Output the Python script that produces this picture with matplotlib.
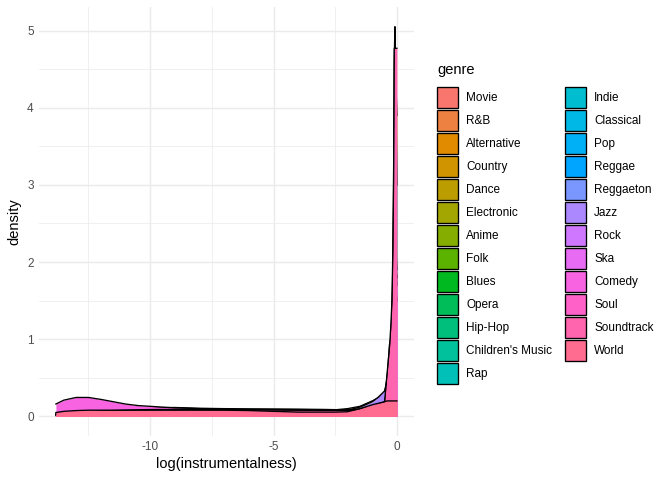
import numpy as np
import matplotlib
matplotlib.use("Agg")
import matplotlib.pyplot as plt
from matplotlib.patches import Patch

plt.rcParams['font.family'] = ['Liberation Sans', 'DejaVu Sans']

genres = ["Movie", "R&B", "Alternative", "Country", "Dance", "Electronic", "Anime",
          "Folk", "Blues", "Opera", "Hip-Hop", "Children's Music", "Rap", "Indie",
          "Classical", "Pop", "Reggae", "Reggaeton", "Jazz", "Rock", "Ska", "Comedy",
          "Soul", "Soundtrack", "World"]

# evaluation points on log(instrumentalness)
x_grid = [-13.82, -13.5, -13.0, -12.5, -12.0, -11.5, -11.0, -10.5, -10.0, -9.0, -8.0,
          -7.0, -6.0, -5.0, -4.0, -3.0, -2.5, -2.0, -1.5, -1.0, -0.75, -0.5, -0.4,
          -0.3, -0.25, -0.2, -0.162, -0.135, -0.108, -0.081, -0.054, -0.027, 0.0]

dens_electronic = [0.02, 0.03, 0.04, 0.05, 0.05, 0.05, 0.06, 0.06, 0.07, 0.07, 0.07,
                   0.07, 0.07, 0.07, 0.07, 0.075, 0.085, 0.1, 0.13, 0.2, 0.24, 0.3, 0.5,
                   0.8, 1.0, 1.3, 1.8, 2.6, 3.6, 4.2, 4.3, 4.2, 3.9]
dens_classical = [0.01, 0.01, 0.01, 0.01, 0.01, 0.01, 0.01, 0.01, 0.01, 0.01, 0.015,
                  0.015, 0.02, 0.02, 0.025, 0.03, 0.035, 0.04, 0.06, 0.1, 0.15, 0.25, 0.45,
                  0.93, 1.0, 1.35, 2.0, 3.0, 4.6, 5.05, 4.6, 3.8, 3.0]
dens_jazz = [0.03, 0.04, 0.05, 0.06, 0.065, 0.07, 0.07, 0.075, 0.075, 0.08, 0.08,
             0.08, 0.08, 0.08, 0.078, 0.075, 0.075, 0.08, 0.12, 0.19, 0.25, 0.33, 0.45,
             0.7, 0.9, 1.2, 1.6, 2.0, 2.4, 2.4, 2.3, 2.1, 1.9]
dens_rock = [0.03, 0.05, 0.06, 0.07, 0.08, 0.09, 0.1, 0.105, 0.11, 0.115, 0.105,
             0.1, 0.097, 0.095, 0.093, 0.09, 0.087, 0.085, 0.09, 0.12, 0.15, 0.18, 0.35,
             0.65, 0.85, 1.1, 1.5, 1.9, 2.2, 2.2, 2.1, 1.9, 1.7]
dens_comedy = [0.16, 0.21, 0.245, 0.245, 0.22, 0.19, 0.16, 0.14, 0.13, 0.11, 0.1,
               0.095, 0.092, 0.09, 0.088, 0.085, 0.083, 0.085, 0.09, 0.12, 0.15, 0.18, 0.35,
               0.6, 0.8, 1.0, 1.3, 1.6, 1.8, 1.8, 1.7, 1.6, 1.5]
dens_soul = [0.02, 0.03, 0.04, 0.05, 0.06, 0.06, 0.07, 0.07, 0.075, 0.08, 0.08,
             0.08, 0.08, 0.08, 0.078, 0.075, 0.072, 0.07, 0.07, 0.1, 0.14, 0.18, 0.33,
             0.6, 0.8, 1.05, 1.4, 1.8, 2.1, 2.1, 2.0, 1.9, 1.8]
dens_soundtrack = [0.03, 0.04, 0.05, 0.06, 0.07, 0.075, 0.08, 0.085, 0.088, 0.09, 0.09,
                   0.088, 0.085, 0.083, 0.08, 0.078, 0.077, 0.078, 0.09, 0.12, 0.15, 0.19,
                   0.55, 0.9, 1.15, 1.5, 2.2, 3.05, 4.77, 4.77, 4.77, 4.77, 4.77]
dens_world = [0.05, 0.065, 0.075, 0.08, 0.08, 0.08, 0.08, 0.08, 0.08, 0.08, 0.08,
              0.08, 0.075, 0.065, 0.055, 0.055, 0.055, 0.06, 0.1, 0.15, 0.17, 0.19, 0.2,
              0.2, 0.2, 0.2, 0.2, 0.2, 0.2, 0.2, 0.2, 0.2, 0.2]

densities = {"Electronic": dens_electronic, "Classical": dens_classical, "Jazz": dens_jazz,
             "Rock": dens_rock, "Comedy": dens_comedy, "Soul": dens_soul,
             "Soundtrack": dens_soundtrack, "World": dens_world}


def hue_pal(n, c=100.0, l=65.0):
    # ggplot2 default discrete palette (polar LUV)
    hs = np.linspace(15, 375, n + 1)[:-1]
    xn, yn, zn = 0.95047, 1.0, 1.08883
    un = 4 * xn / (xn + 15 * yn + 3 * zn)
    vn = 9 * yn / (xn + 15 * yn + 3 * zn)
    out = []
    for h in hs:
        u = c * np.cos(np.radians(h))
        v = c * np.sin(np.radians(h))
        Y = yn * ((l + 16) / 116) ** 3
        up = u / (13 * l) + un
        vp = v / (13 * l) + vn
        X = 9 * Y * up / (4 * vp)
        Z = -X / 3 - 5 * Y + 3 * Y / vp
        rgb = np.array([3.240479 * X - 1.537150 * Y - 0.498535 * Z,
                        -0.969256 * X + 1.875992 * Y + 0.041556 * Z,
                        0.055648 * X - 0.204043 * Y + 1.057311 * Z])
        rgb = np.where(rgb > 0.00304, 1.055 * np.abs(rgb) ** (1 / 2.4) - 0.055, 12.92 * rgb)
        out.append(tuple(np.clip(rgb, 0, 1)))
    return out


colors = hue_pal(len(genres))

fig = plt.figure(figsize=(7, 5), dpi=96)
ax = fig.add_axes([0.058, 0.092, 0.558, 0.893])

z = 2
for g, col in zip(genres, colors):
    if g not in densities:
        continue
    y = densities[g]
    ax.fill_between(x_grid, 0, y, color=col, lw=0, zorder=z)
    ax.plot(x_grid, y, color='black', lw=1.0, zorder=z + 0.5)
    z += 1

ax.set_xlim(-14.506, 0.691)
ax.set_ylim(-0.2525, 5.3025)
ax.set_xticks([-10, -5, 0])
ax.set_xticklabels(['-10', '-5', '0'])
ax.set_yticks([0, 1, 2, 3, 4, 5])
ax.set_xticks([-12.5, -7.5, -2.5], minor=True)
ax.set_yticks([0.5, 1.5, 2.5, 3.5, 4.5], minor=True)
ax.grid(which='major', color='#EBEBEB', lw=1.07, zorder=0)
ax.grid(which='minor', color='#EBEBEB', lw=0.53, zorder=0)
ax.set_axisbelow(True)
ax.tick_params(which='both', length=0, labelsize=8.8, labelcolor='#4D4D4D', pad=4)
for s in ax.spines.values():
    s.set_visible(False)
ax.set_xlabel('log(instrumentalness)', fontsize=11, labelpad=3)
ax.set_ylabel('density', fontsize=11, labelpad=4)

handles = [Patch(facecolor=c, edgecolor='black', lw=1.0) for c in colors]
leg = fig.legend(handles, genres, ncol=2, loc='upper left',
                 bbox_to_anchor=(429 / 672, 1 - 79 / 480), frameon=False,
                 fontsize=8.8,
                 handlelength=1.79, handleheight=2.375, labelspacing=0.17,
                 handletextpad=0.68, columnspacing=1.1, borderpad=0.2)
fig.text(437 / 672, 1 - 70 / 480, 'genre', fontsize=11, ha='left', va='center')

fig.savefig('out.png', dpi=96)
